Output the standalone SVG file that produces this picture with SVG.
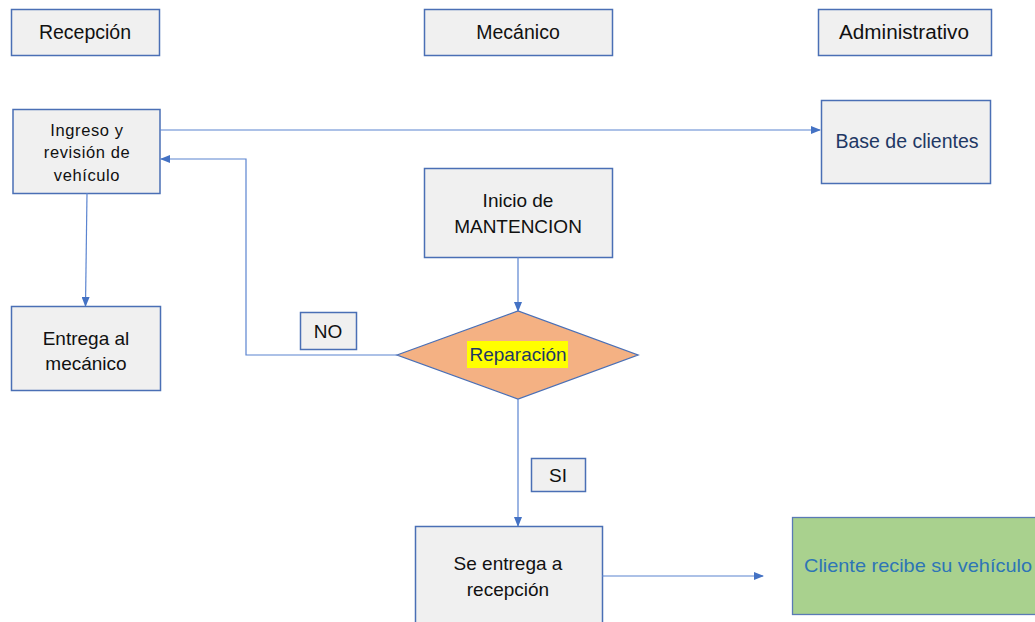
<svg xmlns="http://www.w3.org/2000/svg" width="1035" height="622" viewBox="0 0 1035 622">
<defs>
<style>
.box{fill:#f0f0f0;stroke:#4a6fb5;stroke-width:1.5}
.t{font-family:"Liberation Sans",Arial,sans-serif;font-size:19px;fill:#111;text-anchor:middle}
.h{font-size:19.5px}
.s{font-size:16.5px;letter-spacing:0.6px}
.c{fill:none;stroke:#5b84d0;stroke-width:1.2}
</style>
<marker id="ah" markerWidth="10" markerHeight="8" refX="9" refY="4" orient="auto" markerUnits="userSpaceOnUse">
<path d="M0,0 L10,4 L0,8 Z" fill="#4472c4"/>
</marker>
</defs>
<rect width="1035" height="622" fill="#fff"/>
<g id="h-recepcion"><rect class="box" x="11.5" y="9.5" width="148" height="46"/><text class="t h" x="85" y="39">Recepción</text></g>
<g id="h-mecanico"><rect class="box" x="424.5" y="9.5" width="188" height="46"/><text class="t h" x="518" y="39">Mecánico</text></g>
<g id="h-admin"><rect class="box" x="818.5" y="9.5" width="173" height="46"/><text class="t h" x="904" y="39" textLength="130" lengthAdjust="spacingAndGlyphs">Administrativo</text></g>
<g id="ingreso"><rect class="box" x="13" y="109.5" width="147" height="84"/><text class="t s" x="87" y="136">Ingreso y</text><text class="t s" x="87" y="158">revisión de</text><text class="t s" x="87" y="181">vehículo</text></g>
<g id="base"><rect class="box" x="821.5" y="100.5" width="169" height="83"/><text class="t" x="907" y="148" style="fill:#1f3864;font-size:19.5px">Base de clientes</text></g>
<g id="inicio"><rect class="box" x="424.5" y="168.5" width="188" height="89"/><text class="t" x="518" y="207">Inicio de</text><text class="t" x="518" y="233">MANTENCION</text></g>
<g id="entrega"><rect class="box" x="11.5" y="306.5" width="149" height="84"/><text class="t" x="86" y="345">Entrega al</text><text class="t" x="86" y="370">mecánico</text></g>
<g id="reparacion"><polygon points="397,355 518,311 638,355 518,399" fill="#f4b183" stroke="#4a6fb5" stroke-width="1.3"/><rect x="467" y="341" width="101" height="27" fill="#ffff00"/><text class="t" x="518" y="361" style="fill:#1f3864" textLength="97" lengthAdjust="spacingAndGlyphs">Reparación</text></g>
<g id="no"><rect class="box" x="300.5" y="312.5" width="56" height="37"/><text class="t" x="328" y="338">NO</text></g>
<g id="si"><rect class="box" x="531.5" y="458.5" width="54" height="33"/><text class="t" x="558" y="482">SI</text></g>
<g id="se-entrega"><rect class="box" x="415.5" y="526.5" width="187" height="100"/><text class="t" x="508" y="570">Se entrega a</text><text class="t" x="508" y="596">recepción</text></g>
<g id="cliente"><rect x="792.5" y="517.5" width="250" height="97" fill="#a9d18e" stroke="#5a7ab5" stroke-width="1.3"/><text class="t" x="918" y="572" style="fill:#2e75b6" textLength="228" lengthAdjust="spacingAndGlyphs">Cliente recibe su vehículo</text></g>
<g id="connectors">
<path class="c" d="M160,130 H820" marker-end="url(#ah)"/>
<path class="c" d="M87,193 L85.5,306" marker-end="url(#ah)"/>
<path class="c" d="M518,257 V311" marker-end="url(#ah)"/>
<path class="c" d="M397,355 H246 V159 H161" marker-end="url(#ah)"/>
<path class="c" d="M518,399 V526" marker-end="url(#ah)"/>
<path class="c" d="M602,576 H763" marker-end="url(#ah)"/>
</g>
</svg>
